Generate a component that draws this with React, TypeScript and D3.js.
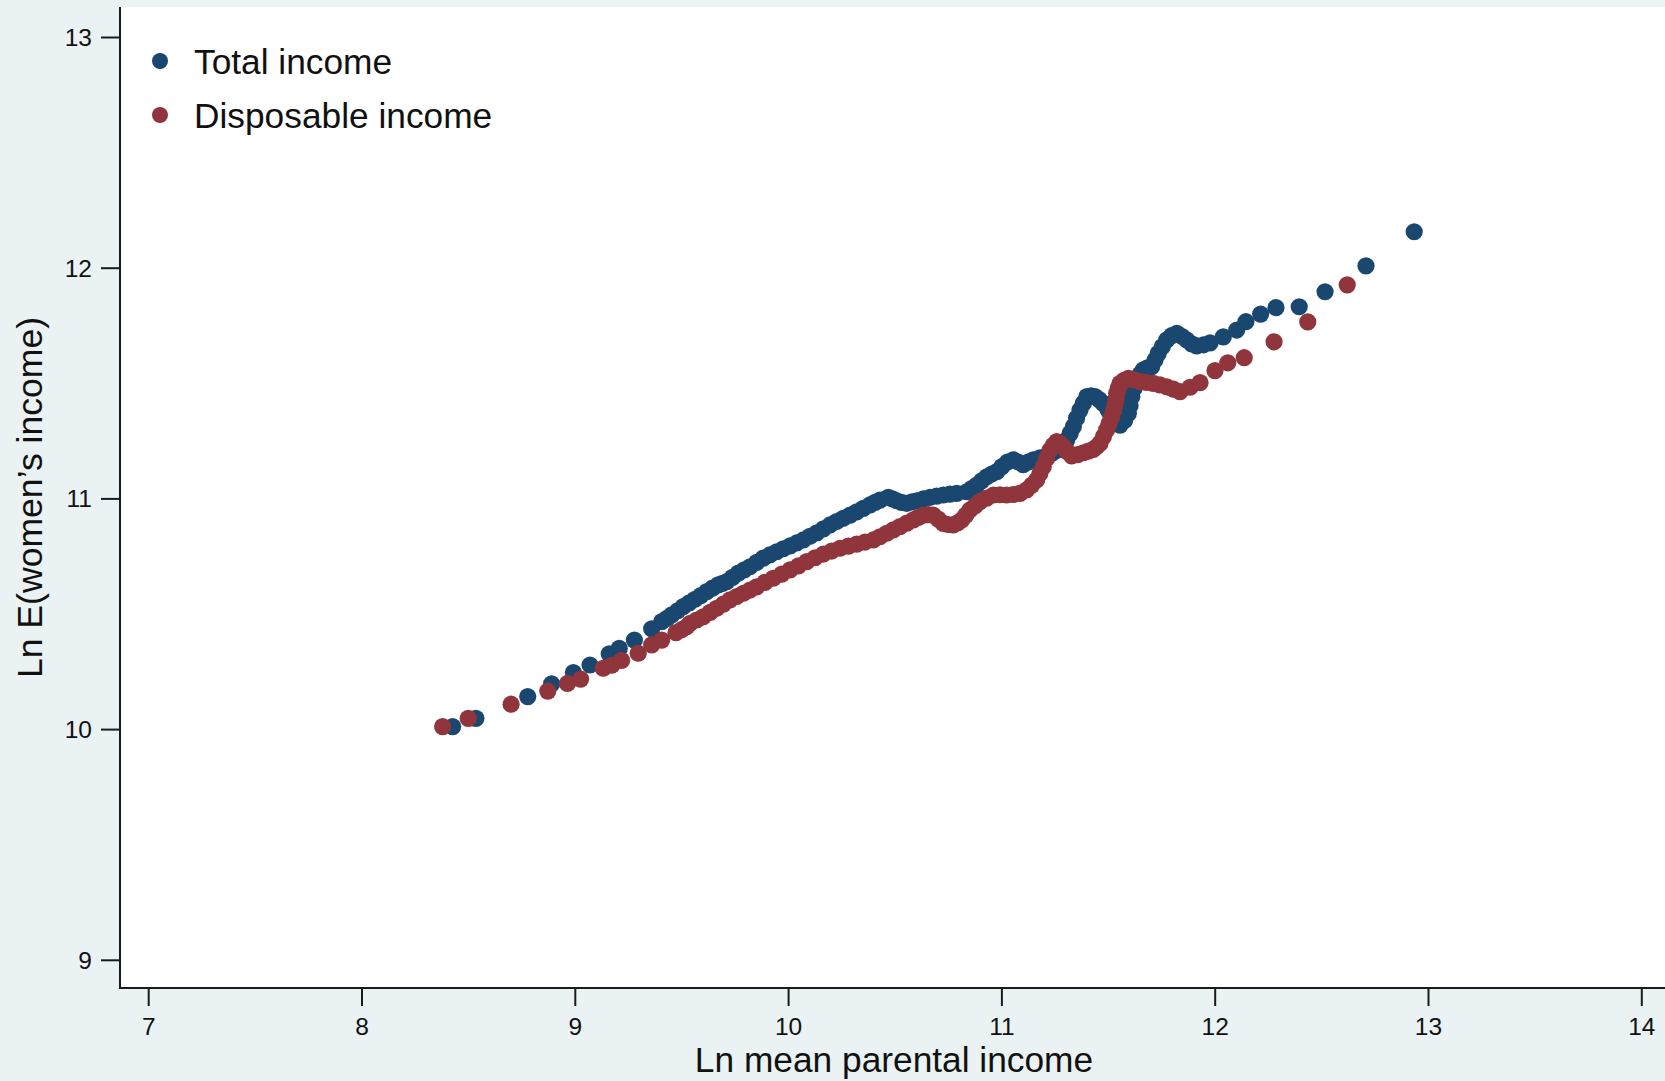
import React from "react";
import * as d3 from "d3";

// ---- Data ----
// Total income: ln mean parental income (x) vs ln E(women's income) (y)
const totalX = [
  8.425, 8.534, 8.777, 8.889, 8.991, 9.069, 9.159, 9.206, 9.277, 9.358,
  9.405, 9.430, 9.452, 9.480, 9.506, 9.534, 9.561, 9.588, 9.616, 9.643,
  9.670, 9.690, 9.710, 9.737, 9.764, 9.792, 9.819, 9.850, 9.881, 9.912,
  9.944, 9.975, 10.007, 10.038, 10.069, 10.100, 10.132, 10.163, 10.194, 10.225,
  10.256, 10.288, 10.319, 10.350, 10.382, 10.405, 10.428, 10.467, 10.487, 10.507,
  10.530, 10.554, 10.578, 10.601, 10.632, 10.663, 10.694, 10.725, 10.756, 10.788,
  10.835, 10.858, 10.882, 10.905, 10.929, 10.952, 10.976, 11.000, 11.026, 11.053,
  11.076, 11.100, 11.123, 11.147, 11.178, 11.210, 11.237, 11.264, 11.284, 11.304,
  11.320, 11.335, 11.350, 11.366, 11.382, 11.398, 11.418, 11.437, 11.456, 11.475,
  11.498, 11.522, 11.540, 11.554, 11.575, 11.593, 11.601, 11.609, 11.620, 11.632,
  11.648, 11.663, 11.682, 11.702, 11.718, 11.733, 11.752, 11.773, 11.796, 11.820,
  11.843, 11.866, 11.890, 11.913, 11.945, 11.976, 12.038, 12.101, 12.144, 12.213,
  12.285, 12.394, 12.515, 12.707, 12.933,
];
const totalY = [
  10.013, 10.049, 10.143, 10.198, 10.247, 10.280, 10.328, 10.352, 10.388, 10.437,
  10.468, 10.482, 10.497, 10.515, 10.533, 10.549, 10.565, 10.581, 10.598, 10.613,
  10.627, 10.634, 10.641, 10.660, 10.678, 10.692, 10.706, 10.725, 10.743, 10.757,
  10.771, 10.784, 10.796, 10.809, 10.822, 10.838, 10.853, 10.870, 10.887, 10.902,
  10.916, 10.930, 10.944, 10.959, 10.974, 10.985, 10.995, 11.007, 11.000, 10.992,
  10.985, 10.981, 10.987, 10.992, 11.000, 11.007, 11.012, 11.017, 11.021, 11.024,
  11.031, 11.045, 11.060, 11.078, 11.096, 11.108, 11.118, 11.140, 11.160, 11.169,
  11.160, 11.148, 11.160, 11.169, 11.178, 11.186, 11.199, 11.212, 11.232, 11.255,
  11.284, 11.313, 11.350, 11.385, 11.415, 11.443, 11.447, 11.443, 11.430, 11.414,
  11.385, 11.356, 11.332, 11.320, 11.340, 11.371, 11.405, 11.443, 11.480, 11.515,
  11.540, 11.559, 11.568, 11.573, 11.602, 11.631, 11.660, 11.689, 11.708, 11.718,
  11.705, 11.689, 11.672, 11.663, 11.668, 11.676, 11.702, 11.732, 11.768, 11.801,
  11.829, 11.833, 11.898, 12.010, 12.158,
];

// Disposable income
const dispX = [
  8.378, 8.498, 8.699, 8.871, 8.963, 9.025, 9.131, 9.171, 9.217, 9.295,
  9.358, 9.405, 9.472, 9.498, 9.522, 9.538, 9.569, 9.600, 9.632, 9.663,
  9.694, 9.725, 9.757, 9.788, 9.819, 9.850, 9.889, 9.928, 9.968, 10.007,
  10.046, 10.085, 10.124, 10.163, 10.202, 10.241, 10.280, 10.319, 10.358, 10.397,
  10.428, 10.460, 10.491, 10.522, 10.554, 10.585, 10.608, 10.632, 10.655, 10.678,
  10.702, 10.725, 10.748, 10.772, 10.792, 10.812, 10.831, 10.850, 10.874, 10.897,
  10.928, 10.960, 10.991, 11.022, 11.053, 11.085, 11.116, 11.140, 11.163, 11.178,
  11.194, 11.210, 11.226, 11.241, 11.257, 11.272, 11.288, 11.307, 11.327, 11.355,
  11.382, 11.405, 11.428, 11.444, 11.460, 11.476, 11.491, 11.503, 11.515, 11.523,
  11.530, 11.535, 11.538, 11.546, 11.554, 11.573, 11.593, 11.620, 11.647, 11.678,
  11.710, 11.741, 11.773, 11.804, 11.835, 11.882, 11.929, 11.999, 12.059, 12.136,
  12.276, 12.434, 12.619,
];
const dispY = [
  10.013, 10.049, 10.110, 10.167, 10.200, 10.219, 10.266, 10.279, 10.300, 10.331,
  10.367, 10.388, 10.420, 10.433, 10.446, 10.461, 10.475, 10.489, 10.508, 10.526,
  10.544, 10.562, 10.577, 10.591, 10.605, 10.619, 10.638, 10.656, 10.674, 10.692,
  10.710, 10.728, 10.745, 10.761, 10.774, 10.786, 10.795, 10.804, 10.813, 10.822,
  10.836, 10.851, 10.866, 10.880, 10.895, 10.909, 10.920, 10.930, 10.932, 10.930,
  10.912, 10.894, 10.889, 10.887, 10.896, 10.909, 10.930, 10.952, 10.970, 10.988,
  11.003, 11.017, 11.018, 11.017, 11.019, 11.024, 11.039, 11.060, 11.082, 11.110,
  11.140, 11.176, 11.212, 11.232, 11.248, 11.240, 11.226, 11.205, 11.186, 11.192,
  11.200, 11.207, 11.215, 11.226, 11.241, 11.270, 11.299, 11.328, 11.356, 11.382,
  11.407, 11.432, 11.458, 11.480, 11.501, 11.514, 11.523, 11.516, 11.508, 11.505,
  11.501, 11.494, 11.486, 11.476, 11.465, 11.484, 11.504, 11.556, 11.590, 11.612,
  11.681, 11.767, 11.928,
];

const xTicks = [7, 8, 9, 10, 11, 12, 13, 14];
const yTicks = [9, 10, 11, 12, 13];
const seriesNames = ["Total income", "Disposable income"];
const seriesColors = ["#1a476f", "#90353b"];
const xTitle = "Ln mean parental income";
const yTitle = "Ln E(women\u2019s income)";

export default function App() {
  const W = 1665;
  const H = 1081;
  const plotLeft = 120;
  const plotTop = 7;
  const plotBottom = 988;

  const x = d3.scaleLinear().domain([7, 14]).range([148.7, 1641.8]);
  const y = d3.scaleLinear().domain([9, 13]).range([960.3, 37.5]);

  const font = "'Liberation Sans', Arial, Helvetica, sans-serif";
  const r = 8.6;

  const total = d3.zip(totalX, totalY);
  const disp = d3.zip(dispX, dispY);

  return (
    <svg
      width={W}
      height={H}
      style={{ position: "absolute", left: 0, top: 0, display: "block" }}
      fontFamily={font}
    >
      <rect x={0} y={0} width={W} height={H} fill="#eaf2f3" />
      <rect
        x={plotLeft}
        y={plotTop}
        width={W - plotLeft}
        height={plotBottom - plotTop}
        fill="#ffffff"
      />

      {/* points */}
      <g>
        {total.map((d, i) => (
          <circle key={"t" + i} cx={x(d[0])} cy={y(d[1])} r={r} fill={seriesColors[0]} />
        ))}
      </g>
      <g>
        {disp.map((d, i) => (
          <circle key={"d" + i} cx={x(d[0])} cy={y(d[1])} r={r} fill={seriesColors[1]} />
        ))}
      </g>

      {/* y axis */}
      <line x1={plotLeft} x2={plotLeft} y1={plotTop} y2={plotBottom + 1} stroke="#1a1a1a" strokeWidth={2} />
      {yTicks.map((t) => (
        <g key={"yt" + t}>
          <line x1={plotLeft - 19} x2={plotLeft} y1={y(t)} y2={y(t)} stroke="#1a1a1a" strokeWidth={2} />
          <text
            x={plotLeft - 28}
            y={y(t)}
            dy="0.35em"
            textAnchor="end"
            fontSize={24.5}
            fill="#111"
          >
            {t}
          </text>
        </g>
      ))}

      {/* x axis */}
      <line x1={plotLeft - 1} x2={W} y1={plotBottom} y2={plotBottom} stroke="#1a1a1a" strokeWidth={2} />
      {xTicks.map((t) => (
        <g key={"xt" + t}>
          <line x1={x(t)} x2={x(t)} y1={plotBottom} y2={plotBottom + 18} stroke="#1a1a1a" strokeWidth={2} />
          <text x={x(t)} y={plotBottom + 47} textAnchor="middle" fontSize={24.5} fill="#111">
            {t}
          </text>
        </g>
      ))}

      {/* axis titles */}
      <text x={894} y={1072} textAnchor="middle" fontSize={35.3} fill="#111">
        {xTitle}
      </text>
      <text
        transform={`translate(42, ${497.5}) rotate(-90)`}
        textAnchor="middle"
        fontSize={35.6}
        fill="#111"
      >
        {yTitle}
      </text>

      {/* legend */}
      {seriesNames.map((name, i) => (
        <g key={"lg" + i} transform={`translate(0, ${61 + i * 54})`}>
          <circle cx={160} cy={0} r={8} fill={seriesColors[i]} />
          <text x={194} y={0} dy="0.36em" fontSize={35.3} fill="#111">
            {name}
          </text>
        </g>
      ))}
    </svg>
  );
}
